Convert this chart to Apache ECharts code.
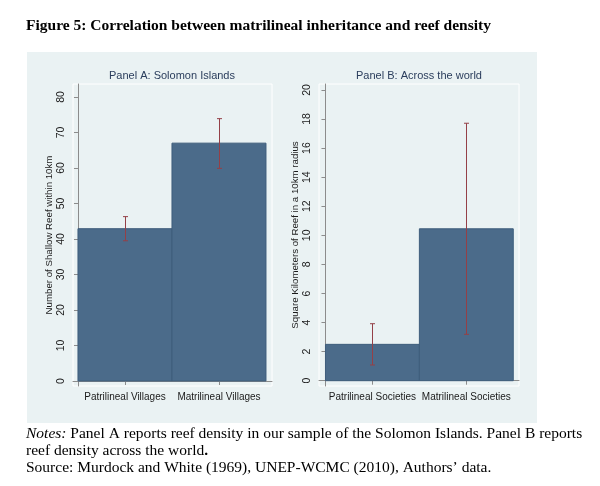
<!DOCTYPE html>
<html>
<head>
<meta charset="utf-8">
<script src="https://cdn.jsdelivr.net/npm/echarts@6/dist/echarts.min.js"></script>
<style>html,body{margin:0;padding:0;background:#fff;}#chart{width:600px;height:486px;}</style>
</head>
<body>
<div id="chart"></div>
<script>
// ---- data ----
const panelACategories = ['Patrilineal Villages', 'Matrilineal Villages'];
const panelAMeans = [42.9, 67.0];
const panelALower = [39.5, 59.9];
const panelAUpper = [46.3, 73.9];
const panelATicks = [0, 10, 20, 30, 40, 50, 60, 70, 80];

const panelBCategories = ['Patrilineal Societies', 'Matrilineal Societies'];
const panelBMeans = [2.5, 10.45];
const panelBLower = [1.08, 3.19];
const panelBUpper = [3.92, 17.71];
const panelBTicks = [0, 2, 4, 6, 8, 10, 12, 14, 16, 18, 20];

const titleText = 'Figure 5: Correlation between matrilineal inheritance and reef density';
const panelATitle = 'Panel A: Solomon Islands';
const panelBTitle = 'Panel B: Across the world';
const panelAYName = 'Number of Shallow Reef within 10km';
const panelBYName = 'Square Kilometers of Reef in a 10km radius';

// ---- styling ----
const BG = '#EAF2F3';
const BAR = '#4B6B8A';
const BAR_EDGE = '#3F5E7C';
const ERR = '#944047';
const AXIS = '#8C8C8C';
const SANS = '"Liberation Sans", Arial, Helvetica, sans-serif';
const SERIF = '"Liberation Serif", "Times New Roman", serif';

const chart = echarts.init(document.getElementById('chart'), null, {renderer: 'canvas'});

function barRender(params, api) {
  const i = api.value(0);
  const v = api.value(1);
  const p0 = api.coord([i, 0]);
  const p1 = api.coord([i + 1, v]);
  return {
    type: 'rect',
    shape: {x: p0[0], y: p1[1], width: p1[0] - p0[0], height: p0[1] - p1[1]},
    style: {fill: BAR, stroke: BAR_EDGE, lineWidth: 1}
  };
}
function errRender(params, api) {
  const x = api.value(0) + 0.5;
  const lo = api.coord([x, api.value(1)]);
  const hi = api.coord([x, api.value(2)]);
  const cx = Math.round(lo[0]) + 0.5;
  const w = 2.5;
  const st = {stroke: ERR, lineWidth: 1};
  return {
    type: 'group',
    children: [
      {type: 'line', shape: {x1: cx, y1: lo[1], x2: cx, y2: hi[1]}, style: st},
      {type: 'line', shape: {x1: cx - w, y1: lo[1], x2: cx + w, y2: lo[1]}, style: st},
      {type: 'line', shape: {x1: cx - w, y1: hi[1], x2: cx + w, y2: hi[1]}, style: st}
    ]
  };
}

function xAxisFor(gridIndex, cats, min, max) {
  const centers = cats.map((c, i) => i + 0.5);
  return {
    type: 'value', gridIndex: gridIndex, min: min, max: max,
    splitLine: {show: false},
    axisLine: {show: true, lineStyle: {color: AXIS, width: 1}},
    axisTick: {show: true, length: 4, lineStyle: {color: AXIS}, customValues: centers},
    axisLabel: {
      show: true, customValues: centers, margin: 6, hideOverlap: false,
      fontFamily: SANS, fontSize: 10, color: '#1a1a1a',
      formatter: function (v) { return cats[Math.round(v - 0.5)] || ''; }
    }
  };
}
function yAxisFor(gridIndex, ticks, min, max, name, gap) {
  return {
    type: 'value', gridIndex: gridIndex, min: min, max: max,
    splitLine: {show: false},
    axisLine: {show: true, lineStyle: {color: AXIS, width: 1}},
    axisTick: {show: true, length: 4, lineStyle: {color: AXIS}, customValues: ticks},
    axisLabel: {
      show: true, customValues: ticks, rotate: 90, margin: 6, hideOverlap: false,
      fontFamily: SANS, fontSize: 10.5, color: '#1a1a1a'
    },
    name: name, nameLocation: 'middle', nameRotate: 90, nameGap: gap,
    nameTextStyle: {fontFamily: SANS, fontSize: 9.7, color: '#1a1a1a'}
  };
}

const option = {
  backgroundColor: '#fff',
  animation: false,
  title: [
    {text: titleText, left: 26, top: 18, padding: 0,
     textStyle: {fontFamily: SERIF, fontWeight: 'bold', fontSize: 15.5, color: '#000'}},
    {text: panelATitle, left: 172, top: 70, padding: 0, textAlign: 'center',
     textStyle: {fontFamily: SANS, fontWeight: 'normal', fontSize: 11, color: '#2A3D5C'}},
    {text: panelBTitle, left: 419, top: 70, padding: 0, textAlign: 'center',
     textStyle: {fontFamily: SANS, fontWeight: 'normal', fontSize: 11, color: '#2A3D5C'}}
  ],
  graphic: [
    {type: 'rect', z: -10, shape: {x: 27, y: 52, width: 510, height: 371}, style: {fill: BG}},
    {type: 'text', left: 26, top: 425, z: 10,
     style: {
       text: '{i|Notes:} Panel A reports reef density in our sample of the Solomon Islands. Panel B reports\nreef density across the world{b|.}\nSource: Murdock and White (1969), UNEP-WCMC (2010), Authors\u2019 data.',
       fontFamily: SERIF, fontSize: 15.5, fill: '#000', lineHeight: 17,
       rich: {
         i: {fontFamily: SERIF, fontSize: 15.5, fontStyle: 'italic', fill: '#000', lineHeight: 17},
         b: {fontFamily: SERIF, fontSize: 15.5, fontWeight: 'bold', fill: '#000', lineHeight: 17}
       }
     }}
  ],
  grid: [
    {left: 73, top: 84, width: 199, height: 302, show: true, backgroundColor: BG,
     borderColor: '#ffffff', borderWidth: 1, containLabel: false, outerBoundsMode: 'none'},
    {left: 319, top: 84, width: 200, height: 302, show: true, backgroundColor: BG,
     borderColor: '#ffffff', borderWidth: 1, containLabel: false, outerBoundsMode: 'none'}
  ],
  xAxis: [
    xAxisFor(0, panelACategories, -0.053, 2.064),
    xAxisFor(1, panelBCategories, -0.069, 2.061)
  ],
  yAxis: [
    yAxisFor(0, panelATicks, -1.41, 83.66, panelAYName, 19),
    yAxisFor(1, panelBTicks, -0.365, 20.41, panelBYName, 19)
  ],
  series: [
    {type: 'custom', xAxisIndex: 0, yAxisIndex: 0, renderItem: barRender, z: 2,
     data: panelAMeans.map((v, i) => [i, v])},
    {type: 'custom', xAxisIndex: 0, yAxisIndex: 0, renderItem: errRender, z: 3,
     data: panelAMeans.map((v, i) => [i, panelALower[i], panelAUpper[i]])},
    {type: 'custom', xAxisIndex: 1, yAxisIndex: 1, renderItem: barRender, z: 2,
     data: panelBMeans.map((v, i) => [i, v])},
    {type: 'custom', xAxisIndex: 1, yAxisIndex: 1, renderItem: errRender, z: 3,
     data: panelBMeans.map((v, i) => [i, panelBLower[i], panelBUpper[i]])}
  ]
};
chart.setOption(option);
</script>
</body>
</html>
